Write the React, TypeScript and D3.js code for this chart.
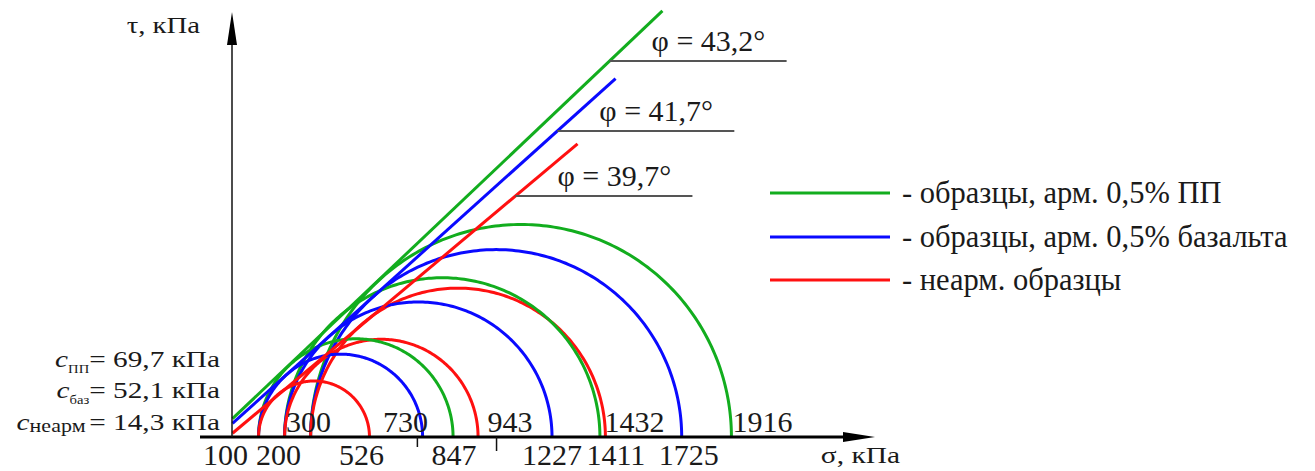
import React from "react";
import * as d3 from "d3";

// ---- data ----
const seriesNames = ["- образцы, арм. 0,5% ПП", "- образцы, арм. 0,5% базальта", "- неарм. образцы"];
const seriesColors = ["#12ad1e", "#0a0aff", "#ff1010"];
const sigma3 = [100, 200, 300];
const sigma1Green = [847, 1411, 1916];
const sigma1Blue = [730, 1227, 1725];
const sigma1Red = [526, 943, 1432];
const phiValues = [43.2, 41.7, 39.7];
const phiLabels = ["φ = 43,2°", "φ = 41,7°", "φ = 39,7°"];
const cohesion = [69.7, 52.1, 14.3];
const envelopeEndSigma = [1651, 1471, 1325];
const cSubscripts = ["ПП", "баз", "неарм"];
const cTexts = ["= 69,7 кПа", "= 52,1 кПа", "= 14,3 кПа"];
const bottomTicks = [100, 200, 526, 847, 1227, 1411, 1725];
const topTicks = [300, 730, 943, 1432, 1916];
const extraTicks = [710, 1014];

// ---- layout ----
const W = 1315, H = 471;
const X0 = 232.5, Y0 = 437;
const KX = 0.2604, KY = 0.263;
const bottomDx = [-33, -6, -8, 1, 0, 16, 7];
const topDx = [-2, -17, 32, 29, 31];
const phiLineY = [61, 131, 196];
const legendY = [193, 237, 280];
const cBaselines = [367, 398, 430];

const FONT = "'Liberation Serif', 'Times New Roman', serif";
const sigma1All = [sigma1Green, sigma1Blue, sigma1Red];

export default function App() {
  const x = d3.scaleLinear().domain([0, 2000]).range([X0, X0 + KX * 2000]);
  const y = d3.scaleLinear().domain([0, 1700]).range([Y0, Y0 - KY * 1700]);
  const line = d3.line<[number, number]>().x(d => x(d[0])).y(d => y(d[1]));
  const angles = d3.range(0, 181, 1).map(a => (a * Math.PI) / 180);

  const arcs: { d: string; color: string; key: string }[] = [];
  [2, 1, 0].forEach(j => {
    [0, 1, 2].forEach(i => {
      const s3 = sigma3[j];
      const s1 = sigma1All[i][j];
      const c = (s1 + s3) / 2, r = (s1 - s3) / 2;
      const pts = angles.map(a => [c + r * Math.cos(a), r * Math.sin(a)] as [number, number]);
      arcs.push({ d: line(pts) || "", color: seriesColors[i], key: `${i}-${j}` });
    });
  });

  const envelopes = phiValues.map((phi, i) => {
    const t = Math.tan((phi * Math.PI) / 180);
    const pts: [number, number][] = [
      [0, cohesion[i]],
      [envelopeEndSigma[i], cohesion[i] + envelopeEndSigma[i] * t],
    ];
    return { d: line(pts) || "", color: seriesColors[i] };
  });

  const phiAnn = phiValues.map((phi, i) => {
    const t = Math.tan((phi * Math.PI) / 180);
    const tau = y.invert(phiLineY[i]);
    const s = (tau - cohesion[i]) / t;
    const xs = x(s);
    return { x1: xs, x2: xs + 177, y: phiLineY[i], label: phiLabels[i] };
  });

  const tickText: React.CSSProperties = { fontFamily: FONT, fontSize: 30, fill: "#1a1a1a" };

  return (
    <svg width={W} height={H} style={{ position: "absolute", left: 0, top: 0, background: "#fff" }}>
      {arcs.map(a => (
        <path key={a.key} d={a.d} fill="none" stroke={a.color} strokeWidth={3} />
      ))}
      {envelopes.map((e, i) => (
        <path key={i} d={e.d} fill="none" stroke={e.color} strokeWidth={3} />
      ))}
      <line x1={200} x2={848} y1={Y0} y2={Y0} stroke="#000" strokeWidth={3} />
      <polygon points={`875,${Y0} 843,${Y0 - 5} 843,${Y0 + 5}`} fill="#000" />
      <line x1={X0 - 0.5} x2={X0 - 0.5} y1={Y0} y2={44} stroke="#111" strokeWidth={1.5} />
      <polygon points={`${X0 - 0.5},12 ${X0 - 5.5},45 ${X0 + 4.5},45`} fill="#000" />
      {extraTicks.map((v, i) => (
        <line key={i} x1={x(v)} x2={x(v)} y1={Y0} y2={Y0 + (i === 0 ? 10 : 14)} stroke="#111" strokeWidth={1.5} />
      ))}
      {bottomTicks.map((v, i) => (
        <text key={`b${v}`} x={x(v) + bottomDx[i]} y={465} textAnchor="middle" style={tickText}>{v}</text>
      ))}
      {topTicks.map((v, i) => (
        <text key={`t${v}`} x={x(v) + topDx[i]} y={432} textAnchor="middle" style={tickText}>{v}</text>
      ))}
      <g transform="translate(200,33) scale(1.25,1)">
        <text textAnchor="end" style={{ fontFamily: FONT, fontSize: 23, fill: "#1a1a1a" }}>τ, кПа</text>
      </g>
      <g transform="translate(900,463) scale(1.28,1)">
        <text textAnchor="end" style={{ fontFamily: FONT, fontSize: 23, fill: "#1a1a1a" }}>σ, кПа</text>
      </g>
      {cSubscripts.map((sub, i) => (
        <g key={sub} transform={`translate(220,${cBaselines[i]}) scale(1.22,1)`}>
          <text textAnchor="end" style={{ fontFamily: FONT, fontSize: 24, fill: "#1a1a1a" }}>
            <tspan fontStyle="italic">c</tspan>
            <tspan fontSize={i === 2 ? 18 : 12} dy={i === 2 ? 2 : 6}>{sub}</tspan>
            <tspan dy={i === 2 ? -2 : -6} dx={i === 2 ? 3 : 0}>{cTexts[i]}</tspan>
          </text>
        </g>
      ))}
      {phiAnn.map((p, i) => (
        <g key={i}>
          <line x1={p.x1} x2={p.x2} y1={p.y} y2={p.y} stroke="#555" strokeWidth={1.8} />
          <text x={p.x1 + 42} y={p.y - 10} style={tickText}>{p.label}</text>
        </g>
      ))}
      {seriesNames.map((n, i) => (
        <g key={n}>
          <line x1={770} x2={890} y1={legendY[i]} y2={legendY[i]} stroke={seriesColors[i]} strokeWidth={3} />
          <text x={902} y={legendY[i] + 10} style={{ ...tickText, fontSize: 30.5 }}>{n}</text>
        </g>
      ))}
    </svg>
  );
}
